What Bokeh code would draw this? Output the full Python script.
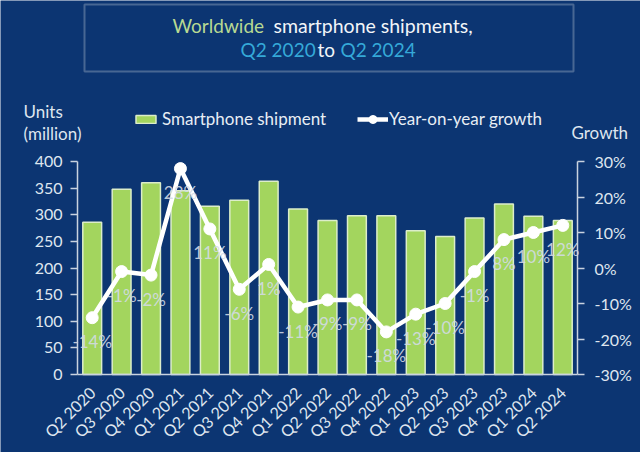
import math
from bokeh.plotting import figure
from bokeh.models import (Range1d, LinearAxis, FixedTicker, PrintfTickFormatter,
                          Label, BoxAnnotation, Legend, LegendItem)
from bokeh.core.properties import value
from bokeh.embed import file_html
from bokeh.resources import INLINE

# ---------------- data ----------------
quarters = ["Q2 2020", "Q3 2020", "Q4 2020", "Q1 2021", "Q2 2021", "Q3 2021", "Q4 2021",
            "Q1 2022", "Q2 2022", "Q3 2022", "Q4 2022", "Q1 2023", "Q2 2023", "Q3 2023",
            "Q4 2023", "Q1 2024", "Q2 2024"]
shipments = [286, 348, 360, 345, 316, 327, 363, 311, 289, 298, 298, 270, 259, 294, 320, 297, 289]
growth = [-14, -1, -2, 28, 11, -6, 1, -11, -9, -9, -18, -13, -10, -1, 8, 10, 12]
growth_labels = ["-14%", "-1%", "-2%", "28%", "11%", "-6%", "1%", "-11%", "-9%", "-9%",
                 "-18%", "-13%", "-10%", "-1%", "8%", "10%", "12%"]
shipment_ticks = [0, 50, 100, 150, 200, 250, 300, 350, 400]
growth_ticks = [-30, -20, -10, 0, 10, 20, 30]

# ---------------- layout / style ----------------
W, H = 640, 452
PL, PR, PT, PB = 77, 577, 161, 374          # plot area in page pixels
BG = "#0c3572"
FONT = "Lato"
TXT = "#dfe6ef"
AX = "#c9d3e0"
GREEN = "#a3d55e"

n = len(quarters)
step = (PR - PL) / n
x_lo = -0.5 - PL / step
x_hi = n - 0.5 + (W - PR) / step
y_unit = (shipment_ticks[-1] - shipment_ticks[0]) / (PB - PT)
g_unit = (growth_ticks[-1] - growth_ticks[0]) / (PB - PT)

p = figure(width=W, height=H, x_range=Range1d(x_lo, x_hi),
           y_range=Range1d(shipment_ticks[0] - (H - PB) * y_unit, shipment_ticks[-1] + PT * y_unit),
           output_backend="svg", toolbar_location=None,
           min_border_left=0, min_border_right=0, min_border_top=0, min_border_bottom=0,
           background_fill_color=BG, border_fill_color=BG, outline_line_color=None)
p.extra_y_ranges = {"growth": Range1d(growth_ticks[0] - (H - PB) * g_unit,
                                      growth_ticks[-1] + PT * g_unit)}
p.xgrid.visible = False
p.ygrid.visible = False

def style_axis(ax, size="16px"):
    ax.axis_line_color = AX
    ax.axis_line_width = 1.5
    ax.major_tick_line_color = AX
    ax.major_tick_line_width = 1.5
    ax.minor_tick_line_color = None
    ax.major_tick_in = 0
    ax.major_tick_out = 7
    ax.major_label_text_color = TXT
    ax.major_label_text_font = FONT
    ax.major_label_text_font_size = size

yl = p.yaxis[0]
style_axis(yl)
yl.ticker = FixedTicker(ticks=shipment_ticks)
yl.major_label_standoff = 8
yl.fixed_location = -0.5
yl.bounds = (shipment_ticks[0], shipment_ticks[-1])

yr = LinearAxis(y_range_name="growth", ticker=FixedTicker(ticks=growth_ticks),
                formatter=PrintfTickFormatter(format="%d%%"))
style_axis(yr)
yr.major_label_standoff = 10
yr.fixed_location = n - 0.5
yr.bounds = (growth_ticks[0], growth_ticks[-1])
p.add_layout(yr, "right")

xa = p.xaxis[0]
style_axis(xa, "16px")
xa.ticker = FixedTicker(ticks=list(range(n)))
xa.major_label_overrides = {i: q for i, q in enumerate(quarters)}
xa.major_tick_line_color = None
xa.major_tick_out = 0
xa.major_label_orientation = math.pi / 4
xa.major_label_standoff = 15
xa.fixed_location = shipment_ticks[0]
xa.bounds = (-0.5, n - 0.5)

xs = list(range(n))
bars = p.vbar(x=xs, top=shipments, width=0.64, fill_color=GREEN,
              line_color="#dcedca", line_width=1.5)
line = p.line(x=xs, y=growth, y_range_name="growth", line_color="white", line_width=4.5)
pts = p.scatter(x=xs, y=growth, y_range_name="growth", size=12,
                fill_color="white", line_color="white")
p.text(x=xs, y=growth, text=growth_labels, y_range_name="growth",
       text_align="center", text_baseline="middle", y_offset=24,
       text_font=value(FONT), text_font_size="17px", text_color="#d3dbe6", text_alpha=0.9)

def lab(text, X, Y, color=TXT, size="16px", align="left"):
    p.add_layout(Label(x=X, y=H - Y, x_units="screen", y_units="screen", text=text,
                       text_color=color, text_font=FONT, text_font_size=size,
                       text_align=align, text_baseline="middle"))

# title box
p.add_layout(BoxAnnotation(left=84, right=573, top=H - 4, bottom=H - 71,
                           left_units="screen", right_units="screen",
                           top_units="screen", bottom_units="screen",
                           fill_alpha=0, line_color="#d3d9e2", line_width=2))
WHITE = "#f2f5f9"
CYAN = "#35a9d8"
LGREEN = "#b8da92"
lab("Worldwide", 172, 25, LGREEN, "19px")
lab("smartphone shipments,", 273, 25, WHITE, "19.5px")
lab("Q2 2020", 240, 49, CYAN, "19px")
lab("to", 317, 49, WHITE, "19px")
lab("Q2 2024", 340, 49, CYAN, "19px")

# axis titles
lab("Units", 23, 111, size="17px")
lab("(million)", 23, 133, size="17px")
lab("Growth", 571, 132, size="17px")

# legends
leg1 = Legend(items=[LegendItem(label="Smartphone shipment", renderers=[bars])],
              location=(133, H - 129), orientation="horizontal",
              background_fill_alpha=0, border_line_color=None, padding=0, margin=0,
              glyph_width=25, glyph_height=10, label_height=20, label_standoff=4,
              label_text_color="#e8eef5", label_text_font=FONT, label_text_font_size="17px")
leg2 = Legend(items=[LegendItem(label="Year-on-year growth", renderers=[line, pts])],
              location=(357, H - 129), orientation="horizontal",
              background_fill_alpha=0, border_line_color=None, padding=0, margin=0,
              glyph_width=31, glyph_height=20, label_height=20, label_standoff=1,
              label_text_color="#e8eef5", label_text_font=FONT, label_text_font_size="17px")
p.add_layout(leg1, "center")
p.add_layout(leg2, "center")

open("out.html", "w").write(file_html(p, INLINE))
